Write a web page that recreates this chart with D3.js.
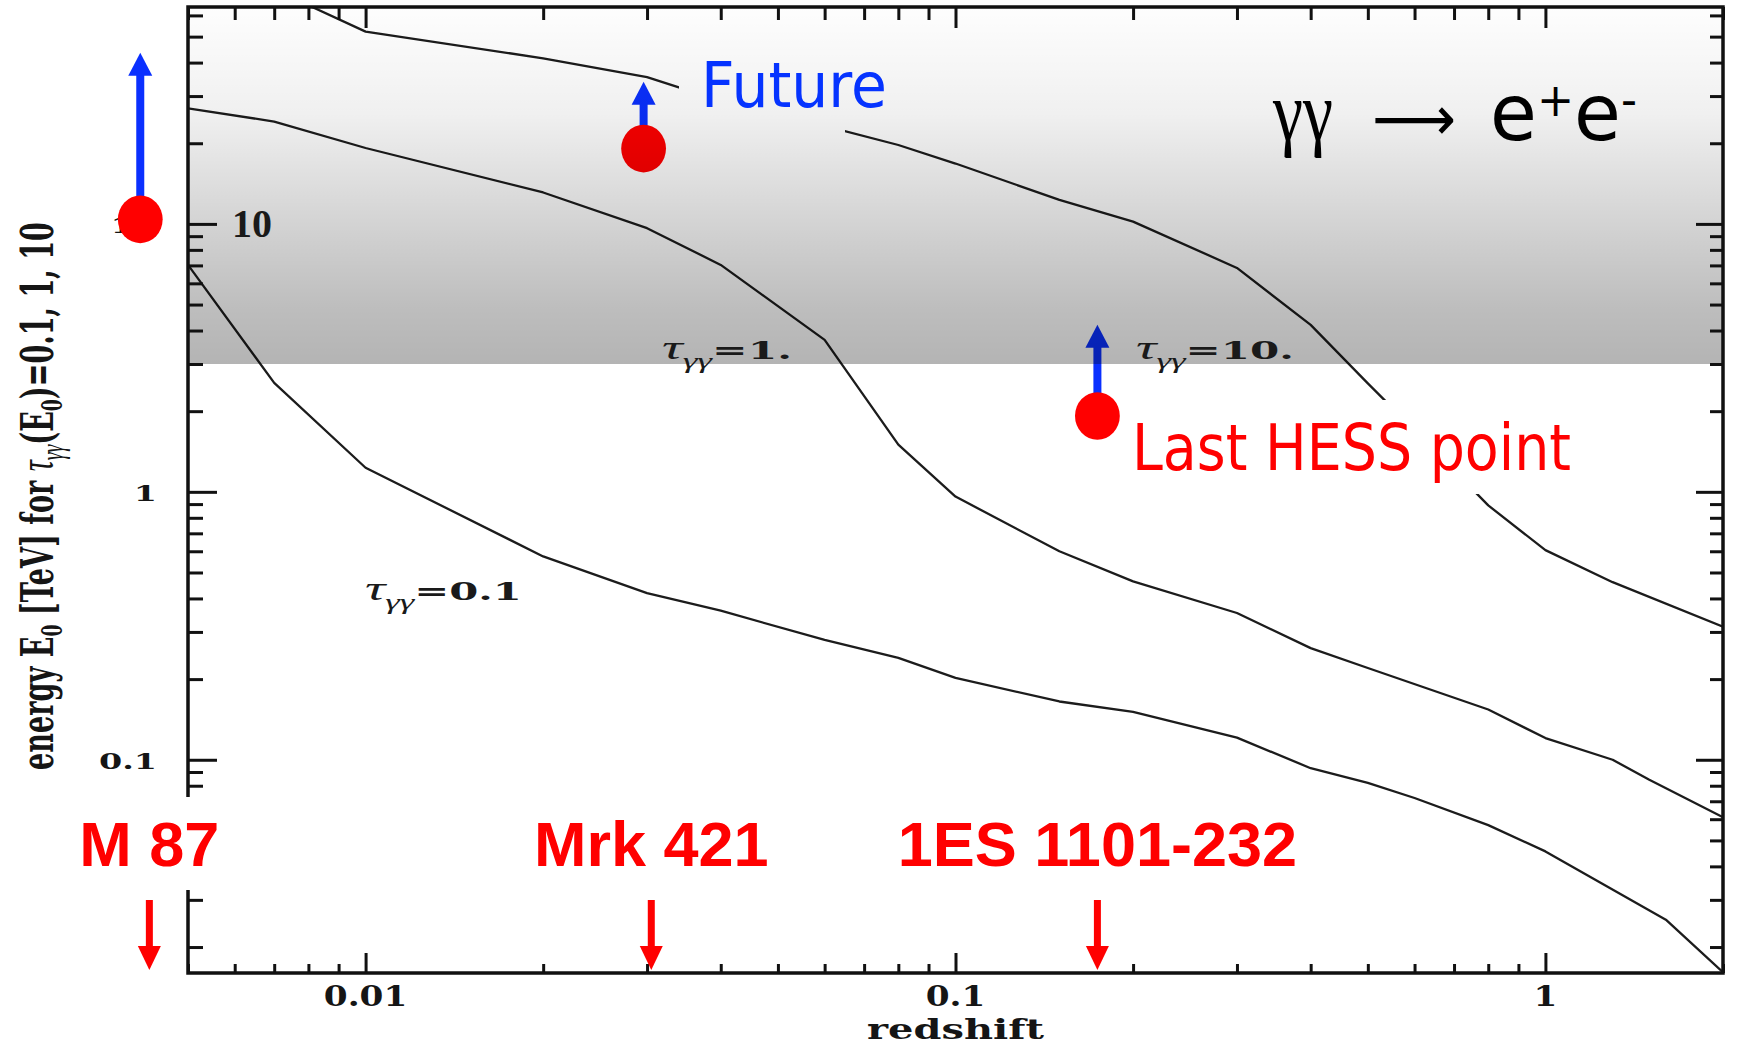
<!DOCTYPE html>
<html>
<head>
<meta charset="utf-8">
<script src="https://cdn.jsdelivr.net/npm/d3@7"></script>
<style>
  html, body { margin: 0; padding: 0; background: #fff; }
  svg { display: block; }
</style>
</head>
<body>
<svg id="chart" width="1737" height="1046"></svg>
<script>
// Pair-production horizon: photon energy at which the optical depth
// tau_gg reaches 0.1, 1 and 10, as a function of source redshift.
const zTau01 = [0.005, 0.007, 0.01, 0.02, 0.03, 0.04, 0.06, 0.08, 0.1, 0.15, 0.2, 0.3, 0.4, 0.5, 0.6, 0.8, 1, 1.6, 2];
const eTau01 = [7.03, 2.55, 1.23, 0.574, 0.419, 0.36, 0.28, 0.240, 0.202, 0.165, 0.151, 0.121, 0.093, 0.082, 0.072, 0.057, 0.0455, 0.0253, 0.0161];

const zTau1 = [0.005, 0.007, 0.01, 0.02, 0.03, 0.04, 0.06, 0.08, 0.1, 0.15, 0.2, 0.3, 0.4, 0.5, 0.8, 1, 1.3, 1.5, 2];
const eTau1 = [27.0, 24.1, 19.2, 13.1, 9.64, 7.03, 3.69, 1.50, 0.96, 0.60, 0.463, 0.353, 0.261, 0.22, 0.154, 0.1205, 0.100, 0.0842, 0.061];

const zTau10 = [0.007, 0.01, 0.02, 0.03, 0.04, 0.06, 0.08, 0.1, 0.15, 0.2, 0.3, 0.4, 0.5, 0.6, 0.8, 1, 1.3, 2];
const eTau10 = [75, 52.2, 41.5, 35.3, 28.8, 23.2, 19.7, 16.8, 12.3, 10.2, 6.85, 4.2, 2.54, 1.70, 0.89, 0.606, 0.460, 0.314];

const tauValues = ["0.1", "1.", "10."];

// Axis ranges and labelled ticks
const zDomain = [0.005, 2];
const eDomain = [0.016, 64.5];
const xMajorTicks = [0.01, 0.1, 1];
const xTickLabels = ["0.01", "0.1", "1"];
const yMajorTicks = [0.1, 1, 10];
const yTickLabels = ["0.1", "1", "10"];

// Shaded region: energies above this value (TeV)
const shadedMinEnergy = 3;

// Sources marked under the axis
const sourceNames = ["M 87", "Mrk 421", "1ES 1101-232"];
const sourceZ = [0.0043, 0.0305, 0.174];

// Lower limits (dot + upward arrow)
const limitZ = [0.00415, 0.0296, 0.174];
const limitE = [10.4, 19.1, 1.92];
const limitArrowE = [43.5, 33.9, 4.2];

const svg = d3.select("#chart");
const plot = { left: 188, right: 1723, top: 7, bottom: 973 };
const figFont = "DejaVu Serif, serif";

const x = d3.scaleLog().domain(zDomain).range([plot.left, plot.right]);
const y = d3.scaleLog().domain(eDomain).range([plot.bottom, plot.top]);

const defs = svg.append("defs");
defs.append("clipPath").attr("id", "plotClip")
  .append("rect")
  .attr("x", plot.left).attr("y", plot.top)
  .attr("width", plot.right - plot.left).attr("height", plot.bottom - plot.top);

const shade = defs.append("linearGradient")
  .attr("id", "shade")
  .attr("gradientUnits", "userSpaceOnUse")
  .attr("x1", 0).attr("x2", 0)
  .attr("y1", y(eDomain[1])).attr("y2", y(shadedMinEnergy));
[[0, 0.005], [0.3, 0.06], [0.6, 0.17], [0.85, 0.26], [1, 0.295]].forEach(([o, a]) => {
  shade.append("stop").attr("offset", o).attr("stop-color", "#000").attr("stop-opacity", a);
});

function fitScale(textSel, target) {
  const w = textSel.node().getComputedTextLength();
  return w > 0 ? target / w : 1;
}

// ---- curves
const line = d3.line().x(d => x(d[0])).y(d => y(d[1]));
const curves = [
  d3.zip(zTau01, eTau01),
  d3.zip(zTau1, eTau1),
  d3.zip(zTau10, eTau10)
];
svg.append("g").attr("clip-path", "url(#plotClip)")
  .selectAll("path").data(curves).join("path")
  .attr("d", line)
  .attr("fill", "none")
  .attr("stroke", "#1c1c1c")
  .attr("stroke-width", 2.3)
  .attr("stroke-linejoin", "round");

// white backing behind the two annotation texts
svg.append("rect").attr("x", 679).attr("y", 45).attr("width", 166).attr("height", 90).attr("fill", "#fff");
svg.append("rect").attr("x", 1125).attr("y", 400).attr("width", 465).attr("height", 94).attr("fill", "#fff");

// ---- y tick labels (left of the axis), horizontally widened
const yLab = svg.append("g");
d3.zip(yMajorTicks, yTickLabels).forEach(([v, s]) => {
  yLab.append("g").attr("transform", `translate(157,${y(v) + 9})`)
    .append("text")
    .attr("text-anchor", "end")
    .attr("transform", "scale(1.45,1)")
    .attr("font-family", figFont).attr("font-weight", "bold")
    .attr("font-size", 23).attr("fill", "#151515")
    .text(s);
});

// ---- lower-limit arrows and dots
function upArrow(g, cx, yFrom, yTip, color) {
  const head = 23, half = 12, shaft = 8;
  g.append("rect")
    .attr("x", cx - shaft / 2).attr("y", yTip + head - 1)
    .attr("width", shaft).attr("height", Math.max(0, yFrom - yTip - head + 1))
    .attr("fill", color);
  g.append("path")
    .attr("d", `M${cx - half},${yTip + head} L${cx},${yTip} L${cx + half},${yTip + head} Z`)
    .attr("fill", color);
}
const limits = svg.append("g");
limitZ.forEach((z, i) => {
  upArrow(limits, x(z), y(limitE[i]), y(limitArrowE[i]), "#0a30ff");
  limits.append("ellipse")
    .attr("cx", x(z)).attr("cy", y(limitE[i]))
    .attr("rx", 22.4).attr("ry", 23.8)
    .attr("fill", "#ff0000");
});

// ---- shaded band
svg.append("rect")
  .attr("x", plot.left).attr("y", y(eDomain[1]))
  .attr("width", plot.right - plot.left)
  .attr("height", y(shadedMinEnergy) - y(eDomain[1]))
  .attr("fill", "url(#shade)");

// ---- curve labels
function tauLabel(x0, y0, value, target) {
  const g = svg.append("g").attr("transform", `translate(${x0},${y0})`);
  const t = g.append("text").attr("fill", "#1a1a1a");
  t.append("tspan").attr("font-family", "Liberation Serif, serif").attr("font-style", "italic")
    .attr("font-size", 34).text("τ");
  t.append("tspan").attr("font-family", "Liberation Serif, serif").attr("font-style", "italic")
    .attr("font-size", 22).attr("dy", 9).text("γγ");
  t.append("tspan").attr("font-family", figFont).attr("font-weight", "bold")
    .attr("font-size", 25).attr("dy", -9).text("=" + value);
  t.attr("transform", `scale(${fitScale(t, target)},1)`);
}
tauLabel(365, 600, tauValues[0], 157);
tauLabel(662, 359, tauValues[1], 130);
tauLabel(1136, 359, tauValues[2], 158);

// ---- axes: ticks on all four sides pointing inward
const xMinor = x.ticks().filter(v => !xMajorTicks.some(m => Math.abs(m - v) < 1e-9));
const yMinor = y.ticks().filter(v => !yMajorTicks.some(m => Math.abs(m - v) < 1e-9));

function tickSet(axis, transform, values, size) {
  const g = svg.append("g").attr("transform", transform)
    .call(axis.tickValues(values).tickSize(size).tickFormat(""));
  g.select(".domain").remove();
  g.selectAll(".tick line").attr("stroke", "#111").attr("stroke-width", 3);
}
tickSet(d3.axisBottom(x), `translate(0,${plot.bottom})`, xMinor, -9);
tickSet(d3.axisBottom(x), `translate(0,${plot.bottom})`, xMajorTicks, -20);
tickSet(d3.axisTop(x), `translate(0,${plot.top})`, xMinor, -13);
tickSet(d3.axisTop(x), `translate(0,${plot.top})`, xMajorTicks, -21);
tickSet(d3.axisLeft(y), `translate(${plot.left},0)`, yMinor, -15);
tickSet(d3.axisLeft(y), `translate(${plot.left},0)`, yMajorTicks, -29);
tickSet(d3.axisRight(y), `translate(${plot.right},0)`, yMinor, -13);
tickSet(d3.axisRight(y), `translate(${plot.right},0)`, yMajorTicks, -27);

svg.append("rect")
  .attr("x", plot.left).attr("y", plot.top)
  .attr("width", plot.right - plot.left).attr("height", plot.bottom - plot.top)
  .attr("fill", "none").attr("stroke", "#111").attr("stroke-width", 3.5);

// ---- x tick labels and axis titles
const xLab = svg.append("g");
d3.zip(xMajorTicks, xTickLabels).forEach(([v, s]) => {
  xLab.append("g").attr("transform", `translate(${x(v)},1006)`)
    .append("text")
    .attr("text-anchor", "middle")
    .attr("transform", "scale(1.27,1)")
    .attr("font-family", figFont).attr("font-weight", "bold")
    .attr("font-size", 27).attr("fill", "#151515")
    .text(s);
});

{
  const g = svg.append("g").attr("transform", `translate(${(plot.left + plot.right) / 2},1039)`);
  const t = g.append("text")
    .attr("text-anchor", "middle")
    .attr("font-family", figFont).attr("font-weight", "bold")
    .attr("font-size", 27).attr("fill", "#151515")
    .text("redshift");
  t.attr("transform", `scale(${fitScale(t, 177)},1)`);
}

{
  const g = svg.append("g").attr("transform", "translate(53,496) rotate(-90)");
  const t = g.append("text")
    .attr("text-anchor", "middle")
    .attr("font-family", figFont).attr("font-weight", "bold")
    .attr("font-size", 44).attr("fill", "#151515");
  t.append("tspan").text("energy E");
  t.append("tspan").attr("font-size", 28).attr("dy", 9).text("0");
  t.append("tspan").attr("dy", -9).text(" [TeV] for ");
  t.append("tspan").attr("font-family", "Liberation Serif, serif").attr("font-style", "italic")
    .attr("font-weight", "normal").attr("font-size", 50).text("τ");
  t.append("tspan").attr("font-family", "Liberation Serif, serif").attr("font-style", "italic")
    .attr("font-weight", "normal").attr("font-size", 32).attr("dy", 10).text("γγ");
  t.append("tspan").attr("dy", -10).text("(E");
  t.append("tspan").attr("font-size", 28).attr("dy", 9).text("0");
  t.append("tspan").attr("dy", -9).text(")=0.1, 1, 10");
  t.attr("transform", `scale(${fitScale(t, 548)},1)`);
}

// blank strip around the left source label
svg.append("rect").attr("x", 0).attr("y", 797).attr("width", 215).attr("height", 93).attr("fill", "#fff");

// ---- source names and their redshift markers
const src = svg.append("g");
sourceNames.forEach((name, i) => {
  const cx = x(sourceZ[i]);
  src.append("text")
    .attr("x", cx).attr("y", 866)
    .attr("text-anchor", "middle")
    .attr("font-family", "Liberation Sans, Arial, sans-serif")
    .attr("font-weight", "bold").attr("font-size", 63)
    .attr("fill", "#ff0000")
    .text(name);
  src.append("rect").attr("x", cx - 3.5).attr("y", 900).attr("width", 7).attr("height", 48).attr("fill", "#ff0000");
  src.append("path")
    .attr("d", `M${cx - 11.5},946 L${cx},${plot.bottom - 3} L${cx + 11.5},946 Z`)
    .attr("fill", "#ff0000");
});

// ---- annotation texts
function fittedText(x0, y0, target, setup) {
  const g = svg.append("g").attr("transform", `translate(${x0},${y0})`);
  const t = g.append("text");
  setup(t);
  t.attr("transform", `scale(${fitScale(t, target)},1)`);
  return t;
}
fittedText(701, 107, 186, t => t.attr("font-family", "DejaVu Sans, Verdana, sans-serif")
  .attr("font-size", 62).attr("fill", "#0533ff").text("Future"));
fittedText(1132, 470, 439, t => t.attr("font-family", "DejaVu Sans, Verdana, sans-serif")
  .attr("font-size", 64).attr("fill", "#ff0000").text("Last HESS point"));

// reaction label: gamma gamma -> e+ e-
fittedText(1273, 140, 60, t => t.attr("font-family", "Liberation Serif, serif")
  .attr("font-size", 84).attr("fill", "#000").text("γγ"));
fittedText(1372, 140, 84, t => t.attr("font-family", "DejaVu Sans, sans-serif")
  .attr("font-size", 62).attr("fill", "#000").text("⟶"));
fittedText(1490, 140, 147, t => {
  t.attr("font-family", "DejaVu Sans, sans-serif").attr("fill", "#000");
  t.append("tspan").attr("font-size", 79).text("e");
  t.append("tspan").attr("font-size", 46).attr("dy", -24).text("+");
  t.append("tspan").attr("font-size", 79).attr("dy", 24).text("e");
  t.append("tspan").attr("font-size", 46).attr("dy", -24).text("-");
});

svg.append("text")
  .attr("x", 232).attr("y", 237)
  .attr("font-family", "Liberation Serif, serif").attr("font-weight", "bold")
  .attr("font-size", 40).attr("fill", "#1a1a1a")
  .text(yTickLabels[2]);
</script>
</body>
</html>
